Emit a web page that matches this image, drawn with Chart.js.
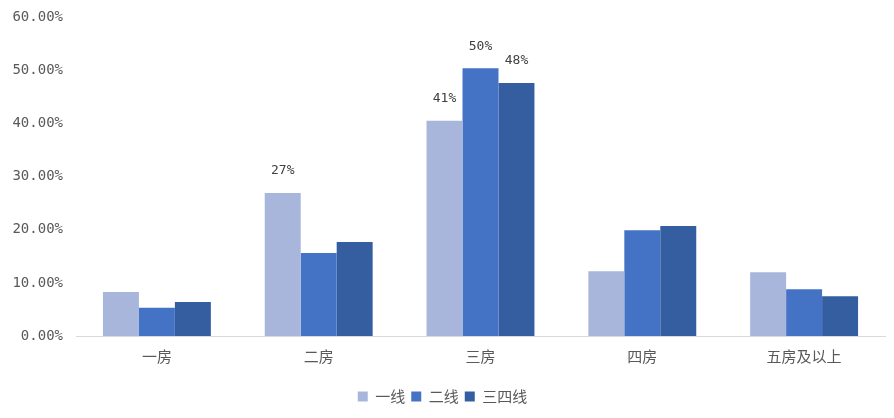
<!DOCTYPE html>
<html>
<head>
<meta charset="utf-8">
<script src="https://cdn.jsdelivr.net/npm/chart.js@4/dist/chart.umd.min.js"></script>
<style>
  html, body { margin: 0; padding: 0; background: #fff; }
  #wrap { width: 894px; height: 418px; }
</style>
</head>
<body>
<div id="wrap"><canvas id="barChart"></canvas></div>
<script>
const categories = ["一房", "二房", "三房", "四房", "五房及以上"];
const seriesNames = ["一线", "二线", "三四线"];
const tier1 = [8.3, 26.9, 40.5, 12.2, 12.0];
const tier2 = [5.3, 15.6, 50.4, 19.9, 8.8];
const tier34 = [6.4, 17.7, 47.6, 20.7, 7.5];
// which bars carry a value label (true = show)
const tier1Labels = [false, true, true, false, false];
const tier2Labels = [false, false, true, false, false];
const tier34Labels = [false, false, true, false, false];
const yTicks = [0, 10, 20, 30, 40, 50, 60];

const colors = ["#a9b6db", "#4472c4", "#355ea1"];

const valueLabels = {
    id: "valueLabels",
    afterDatasetsDraw(chart) {
        const ctx = chart.ctx;
        ctx.save();
        ctx.font = "13px 'DejaVu Sans Mono', monospace";
        ctx.fillStyle = "#404040";
        ctx.textAlign = "center";
        ctx.textBaseline = "middle";
        chart.data.datasets.forEach((ds, i) => {
            const meta = chart.getDatasetMeta(i);
            meta.data.forEach((bar, j) => {
                if (!ds.showLabels[j]) return;
                ctx.fillText(Math.round(ds.data[j]) + "%", bar.x, bar.y - 22);
            });
        });
        ctx.restore();
    }
};

document.addEventListener("DOMContentLoaded", () => {
    Chart.defaults.font.family = "'Noto Sans CJK SC', sans-serif";
    Chart.defaults.color = "#595959";

    new Chart(document.getElementById("barChart"), {
        type: 'bar',
        data: {
            labels: categories,
            datasets: [
                { label: seriesNames[0], data: tier1, backgroundColor: colors[0], showLabels: tier1Labels },
                { label: seriesNames[1], data: tier2, backgroundColor: colors[1], showLabels: tier2Labels },
                { label: seriesNames[2], data: tier34, backgroundColor: colors[2], showLabels: tier34Labels }
            ]
        },
        options: {
            responsive: true,
            maintainAspectRatio: false,
            animation: false,
            layout: { padding: { top: 0, right: 9, left: 0, bottom: 4 } },
            datasets: { bar: { categoryPercentage: 0.667, barPercentage: 1.0 } },
            plugins: {
                legend: {
                    position: 'bottom',
                    labels: {
                        boxWidth: 10,
                        boxHeight: 10,
                        padding: 6,
                        color: "#595959",
                        font: { size: 15 }
                    }
                },
                tooltip: { enabled: false }
            },
            scales: {
                x: {
                    afterFit(scale) { scale.height += 7; },
                    grid: { display: false, drawTicks: false },
                    border: { color: "#d9d9d9" },
                    ticks: { padding: 11, color: "#595959", font: { size: 15 } }
                },
                y: {
                    min: 0,
                    max: 60,
                    afterFit(scale) { scale.width = 76; },
                    afterBuildTicks(scale) { scale.ticks = yTicks.map(v => ({ value: v })); },
                    grid: { display: false, drawTicks: false },
                    border: { display: false },
                    ticks: {
                        padding: 13,
                        color: "#595959",
                        font: { family: "'DejaVu Sans Mono', monospace", size: 14, lineHeight: 0.6 },
                        callback: v => v.toFixed(2) + "%"
                    }
                }
            }
        },
        plugins: [valueLabels]
    });
});
</script>
</body>
</html>
